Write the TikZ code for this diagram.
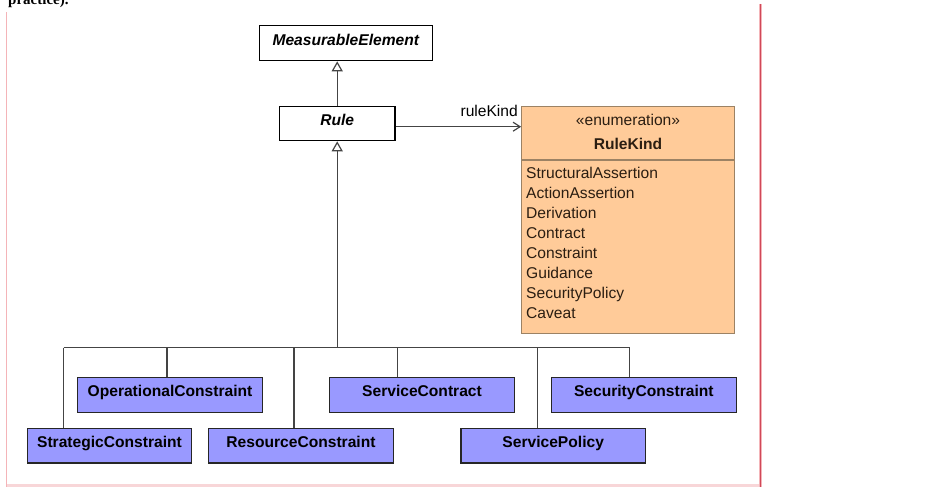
\documentclass[tikz,border=0pt]{standalone}
\usepackage{fontspec}
\setmainfont{Liberation Sans}
\newfontfamily\serifb{Liberation Serif}
\usetikzlibrary{arrows.meta}
\definecolor{blueBox}{HTML}{9999FF}
\definecolor{enumFill}{HTML}{FFCB99}
\definecolor{enumLine}{HTML}{9C8264}
\definecolor{enumText}{HTML}{2B1E12}
\definecolor{lineGray}{HTML}{444444}
\definecolor{framePink}{HTML}{F4B4B8}
\definecolor{frameLight}{HTML}{F8D6D8}
\definecolor{frameRed}{HTML}{D04858}
\begin{document}
\begin{tikzpicture}[x=1pt,y=-1pt,
  font=\fontsize{15.6}{20}\selectfont,
  cls/.style={draw=black, line width=1.2pt, fill=white, inner sep=0pt,
    text height=10pt, text depth=6pt,
    font=\fontsize{15.6}{20}\selectfont\bfseries\itshape},
  sub/.style={draw=black!85, line width=1.5pt, fill=blueBox, inner sep=0pt,
    text height=10pt, text depth=6.6pt,
    font=\fontsize{15.6}{20}\selectfont\bfseries},
  conn/.style={draw=lineGray, line width=1.2pt},
  gen/.style={conn, -{Triangle[open, length=10pt, width=11pt, fill=white]}},
  assoc/.style={conn, -{Straight Barb[length=7pt, width=9pt]}},
  txt/.style={inner sep=0pt, text=enumText}]
\useasboundingbox (0,0) rectangle (952,487);

% page frame
\node[anchor=base west, inner sep=0pt, font=\serifb\bfseries\fontsize{15}{18}\selectfont] (cap) at (8,4.5) {practice).};
\draw[framePink, line width=1.5pt] (6.5,12) -- (6.5,487);
\draw[frameLight, line width=3pt] (6.5,485.5) -- (759,485.5);
\draw[framePink, line width=3pt] (760.7,4) -- (760.7,487);
\draw[frameRed, line width=0.9pt] (760.7,4) -- (760.7,487);

% classes
\node[cls, minimum width=173pt, minimum height=35pt] (me) at (345.8,43.2) {MeasurableElement};
\node[cls, minimum width=115.7pt, minimum height=34pt] (rule) at (337.2,123.7) {Rule};

% enumeration
\node[draw=enumLine, line width=1.1pt, fill=enumFill, minimum width=212.6pt, minimum height=227.3pt, inner sep=0pt] (rk) at (628,219.7) {};
\coordinate (dv) at (0,160);
\draw[enumLine, line width=1.1pt] (rk.west |- dv) -- (rk.east |- dv);
\node[txt, anchor=base] (st) at (628,125) {«enumeration»};
\node[txt, anchor=base, font=\fontsize{15.6}{20}\selectfont\bfseries] (nm) at (628,149.3) {RuleKind};
\node[txt, anchor=base west] (i1) at (526,178.3) {StructuralAssertion};
\node[txt, anchor=base west] (i2) at (526,198.3) {ActionAssertion};
\node[txt, anchor=base west] (i3) at (526,218.3) {Derivation};
\node[txt, anchor=base west] (i4) at (526,238.3) {Contract};
\node[txt, anchor=base west] (i5) at (526,258.3) {Constraint};
\node[txt, anchor=base west] (i6) at (526,278.3) {Guidance};
\node[txt, anchor=base west] (i7) at (526,298.3) {SecurityPolicy};
\node[txt, anchor=base west] (i8) at (526,318.3) {Caveat};

% subclasses
\node[sub, minimum width=184.6pt, minimum height=34.6pt] (op) at (170,395) {OperationalConstraint};
\node[sub, minimum width=164.4pt, minimum height=34.7pt] (strat) at (109.5,445.7) {StrategicConstraint};
\node[sub, minimum width=184.6pt, minimum height=34.7pt] (res) at (301,445.7) {ResourceConstraint};
\node[sub, minimum width=184.6pt, minimum height=34.6pt] (scon) at (422,395) {ServiceContract};
\node[sub, minimum width=184.3pt, minimum height=34.7pt] (spol) at (553.2,445.7) {ServicePolicy};
\node[sub, minimum width=185pt, minimum height=34.6pt] (sec) at (643.8,395) {SecurityConstraint};

% generalization Rule -> MeasurableElement
\draw[gen] (rule.north) -- (rule.north |- me.south);

% association
\coordinate (ay) at (0,126.7);
\draw[assoc] (rule.east |- ay) -- (rk.west |- ay);
\node[anchor=base east, inner sep=0pt] (lbl) at (518,116.7) {ruleKind};

% generalization tree
\coordinate (j) at (337.2,347.7);
\coordinate (d1) at (63.7,347.7);
\coordinate (d2) at (167,347.7);
\coordinate (d3) at (294,347.7);
\coordinate (d4) at (397.7,347.7);
\coordinate (d5) at (537.3,347.7);
\coordinate (d6) at (629.7,347.7);
\draw[gen] (j) -- (rule.south);
\draw[conn] (d1) -- (d6);
\draw[conn] (d1) -- (d1 |- strat.north);
\draw[conn] (d2) -- (d2 |- op.north);
\draw[conn] (d3) -- (d3 |- res.north);
\draw[conn] (d4) -- (d4 |- scon.north);
\draw[conn] (d5) -- (d5 |- spol.north);
\draw[conn] (d6) -- (d6 |- sec.north);
\end{tikzpicture}
\end{document}
